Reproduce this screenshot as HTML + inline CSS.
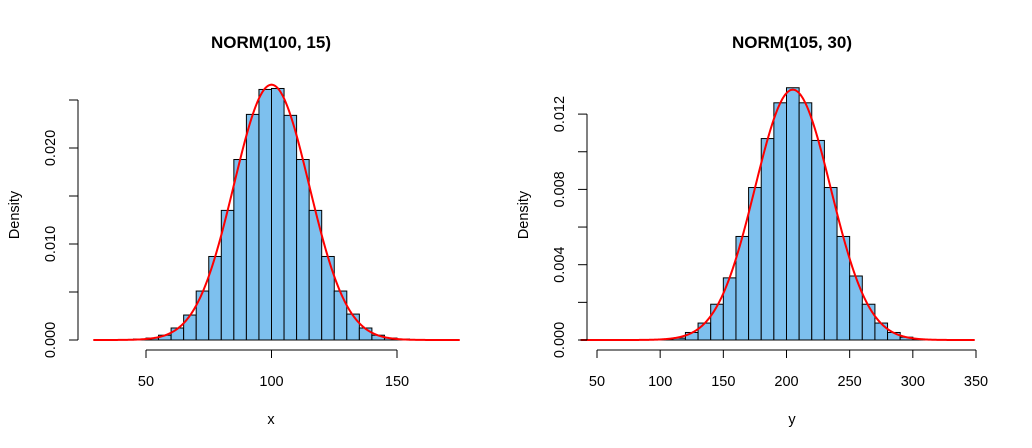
<!DOCTYPE html>
<html><head><meta charset="utf-8"><style>
body{margin:0;background:#fff;}
svg{display:block;font-family:"Liberation Sans",Arial,sans-serif;}
</style></head><body>
<svg id="c" width="1032" height="448" viewBox="0 0 1032 448"></svg>
<script>
// Left panel data
const leftBinStarts=[35,40,45,50,55,60,65,70,75,80,85,90,95,100,105,110,115,120,125,130,135,140,145,150,155,160];
const leftDensity=[0.00003,0.00005,0.0001,0.0002,0.0005,0.00125,0.0026,0.0051,0.0087,0.0135,0.0188,0.0235,0.0261,0.0262,0.0234,0.0188,0.0135,0.0087,0.0051,0.0027,0.00125,0.0005,0.0002,0.0001,0.00005,0.00002];
const leftXTicks=[50,100,150];
const leftYTicks=[0,0.005,0.010,0.015,0.020,0.025];
const leftYLabels=["0.000","","0.010","","0.020",""];
const leftMean=100, leftSd=15;
// Right panel data
const rightBinStarts=[90,100,110,120,130,140,150,160,170,180,190,200,210,220,230,240,250,260,270,280,290,300,310];
const rightDensity=[0.00002,0.00005,0.0001,0.0004,0.0009,0.0019,0.0033,0.0055,0.0081,0.0107,0.0126,0.0134,0.0126,0.0106,0.0081,0.0055,0.0034,0.0019,0.0009,0.0004,0.00015,0.00005,0.00002];
const rightXTicks=[50,100,150,200,250,300,350];
const rightYTicks=[0,0.002,0.004,0.006,0.008,0.010,0.012];
const rightYLabels=["0.000","","0.004","","0.008","","0.012"];
const rightMean=205, rightSd=30;

const svg=document.getElementById('c');
const NS='http://www.w3.org/2000/svg';
function mk(tag,attrs,parent){const e=document.createElementNS(NS,tag);for(const k in attrs)e.setAttribute(k,attrs[k]);(parent||svg).appendChild(e);return e;}

function panel(cfg){
  const g=mk('g',{});
  
  
  const sx=v=>cfg.x0px+(v-cfg.x0)*cfg.xs;
  const sy=v=>340-v*cfg.ys;
  cfg.bins.forEach((b,i)=>{
    const r=mk('rect',{x:sx(b),y:sy(cfg.dens[i]),width:sx(b+cfg.bw)-sx(b),height:cfg.dens[i]*cfg.ys,fill:'#7dc0ee',stroke:'#000','stroke-width':1},g);
    
    
  });
  let d='';
  for(let v=cfg.cx0;v<=cfg.cx1;v+=0.5){
    const y=Math.exp(-0.5*((v-cfg.mean)/cfg.sd)**2)/(cfg.sd*Math.sqrt(2*Math.PI));
    d+=(d?'L':'M')+sx(v).toFixed(2)+','+sy(y).toFixed(2);
  }
  const p=mk('path',{d:d,fill:'none',stroke:'#ff0000','stroke-width':2},g);
  
  
  const ax=cfg.yax;
  const ya=mk('g',{},g);
  
  
  mk('line',{x1:ax,x2:ax,y1:sy(cfg.yt[0]),y2:sy(cfg.yt[cfg.yt.length-1]),stroke:'#000'},ya);
  cfg.yt.forEach((t,i)=>{
    mk('line',{x1:ax-9,x2:ax,y1:sy(t),y2:sy(t),stroke:'#000'},ya);
    if(cfg.yl[i]){const tx=mk('text',{x:0,y:0,transform:`translate(${ax-23},${sy(t)}) rotate(-90)`,'text-anchor':'middle','font-size':14.5,fill:'#000'},ya);tx.textContent=cfg.yl[i];
      }
  });
  const xa=mk('g',{},g);
  
  
  mk('line',{x1:sx(cfg.xt[0]),x2:sx(cfg.xt[cfg.xt.length-1]),y1:350,y2:350,stroke:'#000'},xa);
  cfg.xt.forEach(t=>{
    mk('line',{x1:sx(t),x2:sx(t),y1:350,y2:358,stroke:'#000'},xa);
    const tx=mk('text',{x:sx(t),y:386,'text-anchor':'middle','font-size':14.5,fill:'#000'},xa);tx.textContent=t;
    
  });
  const ti=mk('text',{x:cfg.tx,y:48,'text-anchor':'middle','font-size':17,'font-weight':'bold',fill:'#000'},g);ti.textContent=cfg.title;
  
  const xl=mk('text',{x:cfg.tx,y:424,'text-anchor':'middle','font-size':14.5,fill:'#000'},g);xl.textContent=cfg.xlab;
  
  const yl=mk('text',{x:0,y:0,transform:`translate(${cfg.yax-59},215) rotate(-90)`,'text-anchor':'middle','font-size':14.5,fill:'#000'},g);yl.textContent='Density';
  
}
panel({name:'left-histogram',bins:leftBinStarts,dens:leftDensity,bw:5,x0:50,x0px:146,xs:2.51,ys:9600,mean:leftMean,sd:leftSd,cx0:29,cx1:175,yax:78,yt:leftYTicks,yl:leftYLabels,xt:leftXTicks,tx:271,title:'NORM(100, 15)',xlab:'x'});
panel({name:'right-histogram',bins:rightBinStarts,dens:rightDensity,bw:10,x0:50,x0px:597,xs:1.2633,ys:18825,mean:rightMean,sd:rightSd,cx0:37,cx1:349,yax:587,yt:rightYTicks,yl:rightYLabels,xt:rightXTicks,tx:792,title:'NORM(105, 30)',xlab:'y'});
</script>
</body></html>
